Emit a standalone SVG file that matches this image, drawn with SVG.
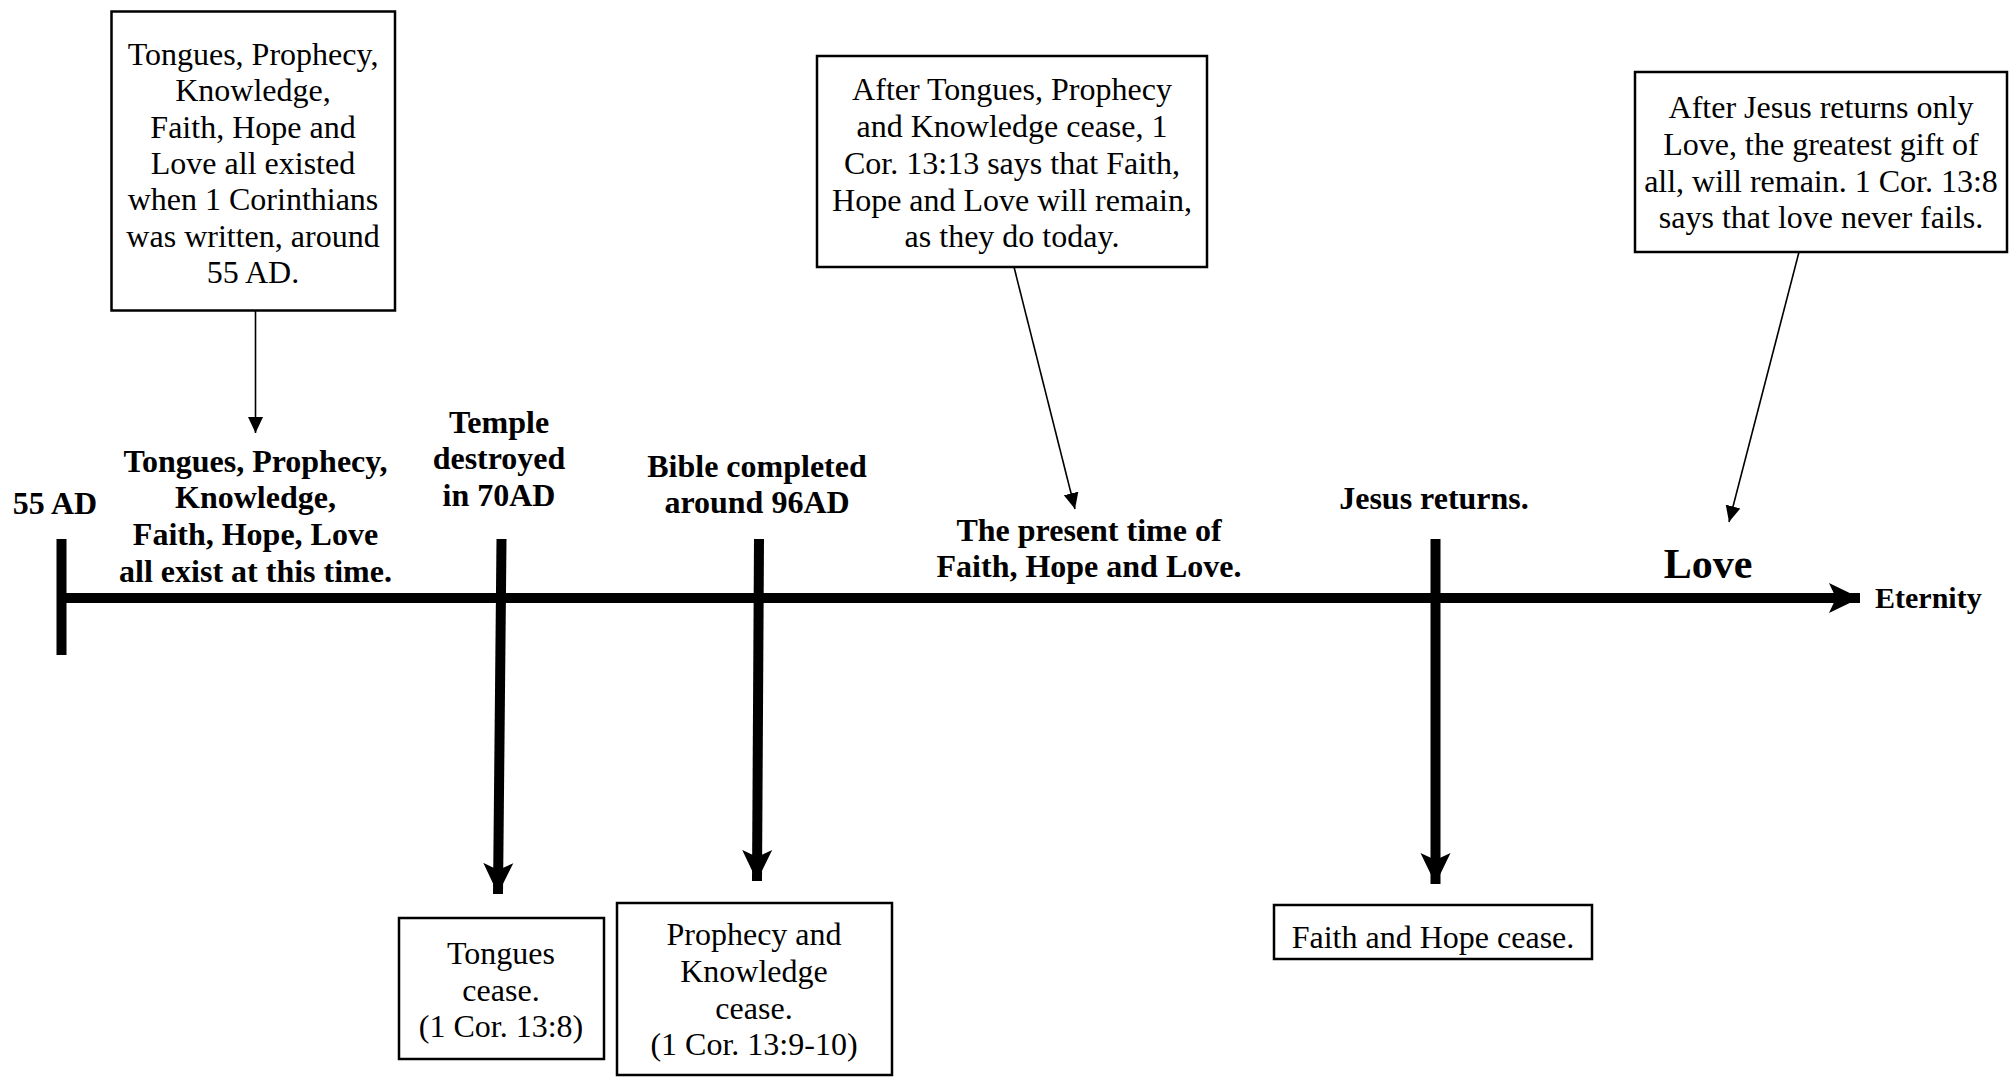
<svg xmlns="http://www.w3.org/2000/svg" width="2011" height="1081" viewBox="0 0 2011 1081">
<style>
text{font-family:"Liberation Serif","Times New Roman",serif;font-size:32px;fill:#000;text-anchor:middle}
.b{font-weight:bold}
.box{fill:#fff;stroke:#000;stroke-width:2.5}
.thick{stroke:#000;stroke-width:10;fill:none}
.thin{stroke:#000;stroke-width:1.6;fill:none}
</style>
<defs>
<marker id="big" markerUnits="userSpaceOnUse" viewBox="0 0 32 32" refX="31" refY="16" markerWidth="32" markerHeight="32" orient="auto">
<path d="M0,1 L31,16 L0,31 L7,16 Z" fill="#000"/>
</marker>
<marker id="small" markerUnits="userSpaceOnUse" viewBox="0 0 16 16" refX="16" refY="8" markerWidth="16" markerHeight="16" orient="auto">
<path d="M0,0.5 L16,8 L0,15.5 Z" fill="#000"/>
</marker>
</defs>
<rect width="2011" height="1081" fill="#fff"/>

<g id="connectors">
<line class="thick" x1="57" y1="598" x2="1860" y2="598" marker-end="url(#big)"/>
<line class="thick" x1="61.5" y1="539" x2="61.5" y2="655"/>
<line class="thick" x1="501.5" y1="539" x2="498" y2="894" marker-end="url(#big)"/>
<line class="thick" x1="759" y1="539" x2="757" y2="881" marker-end="url(#big)"/>
<line class="thick" x1="1435.5" y1="539" x2="1435.5" y2="884" marker-end="url(#big)"/>
<line class="thin" x1="255.5" y1="311" x2="255.5" y2="433" marker-end="url(#small)"/>
<line class="thin" x1="1014" y1="267" x2="1075" y2="509" marker-end="url(#small)"/>
<line class="thin" x1="1799" y1="252" x2="1729" y2="522" marker-end="url(#small)"/>
</g>

<g id="box-55ad-note">
<rect class="box" x="111.5" y="11.5" width="283.5" height="299"/>
<text x="253" y="65">Tongues, Prophecy,</text>
<text x="253" y="101">Knowledge,</text>
<text x="253" y="138">Faith, Hope and</text>
<text x="253" y="174">Love all existed</text>
<text x="253" y="210">when 1 Corinthians</text>
<text x="253" y="247">was written, around</text>
<text x="253" y="283">55 AD.</text>
</g>

<g id="label-55ad"><text class="b" x="55" y="514">55 AD</text></g>

<g id="label-all-exist">
<text class="b" x="255.5" y="472">Tongues, Prophecy,</text>
<text class="b" x="255.5" y="508">Knowledge,</text>
<text class="b" x="255.5" y="545">Faith, Hope, Love</text>
<text class="b" x="255.5" y="582">all exist at this time.</text>
</g>

<g id="label-temple">
<text class="b" x="499" y="433">Temple</text>
<text class="b" x="499" y="469">destroyed</text>
<text class="b" x="499" y="506">in 70AD</text>
</g>

<g id="label-bible">
<text class="b" x="757" y="477">Bible completed</text>
<text class="b" x="757" y="513">around 96AD</text>
</g>

<g id="label-present">
<text class="b" x="1089" y="541">The present time of</text>
<text class="b" x="1089" y="577">Faith, Hope and Love.</text>
</g>

<g id="label-jesus"><text class="b" x="1434" y="509">Jesus returns.</text></g>

<g id="label-love"><text class="b" x="1708" y="578" style="font-size:42px">Love</text></g>

<g id="label-eternity"><text class="b" x="1875" y="608" style="text-anchor:start;font-size:30px">Eternity</text></g>

<g id="box-present-note">
<rect class="box" x="817" y="56" width="390" height="211"/>
<text x="1012" y="100">After Tongues, Prophecy</text>
<text x="1012" y="137">and Knowledge cease, 1</text>
<text x="1012" y="174">Cor. 13:13 says that Faith,</text>
<text x="1012" y="211">Hope and Love will remain,</text>
<text x="1012" y="247">as they do today.</text>
</g>

<g id="box-love-note">
<rect class="box" x="1635" y="72" width="372" height="180"/>
<text x="1821" y="118">After Jesus returns only</text>
<text x="1821" y="155">Love, the greatest gift of</text>
<text x="1821" y="192">all, will remain. 1 Cor. 13:8</text>
<text x="1821" y="228">says that love never fails.</text>
</g>

<g id="box-tongues-cease">
<rect class="box" x="399" y="918" width="205" height="141"/>
<text x="501" y="964">Tongues</text>
<text x="501" y="1001">cease.</text>
<text x="501" y="1037">(1 Cor. 13:8)</text>
</g>

<g id="box-prophecy-cease">
<rect class="box" x="617" y="903" width="275" height="172"/>
<text x="754" y="945">Prophecy and</text>
<text x="754" y="982">Knowledge</text>
<text x="754" y="1019">cease.</text>
<text x="754" y="1055">(1 Cor. 13:9-10)</text>
</g>

<g id="box-faith-hope-cease">
<rect class="box" x="1274" y="905" width="318" height="54"/>
<text x="1433" y="948">Faith and Hope cease.</text>
</g>
</svg>
